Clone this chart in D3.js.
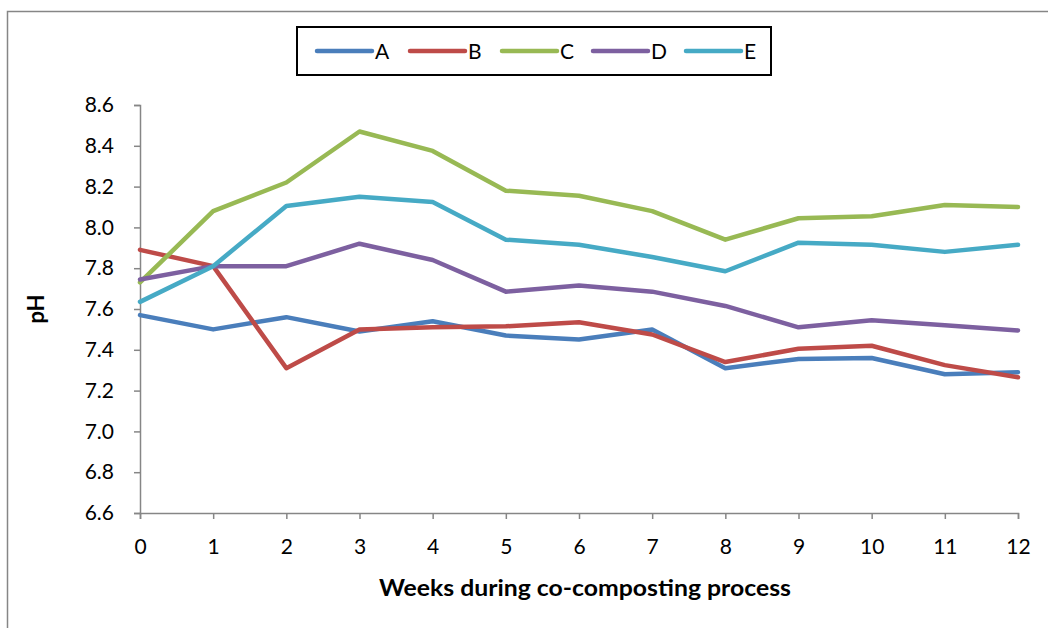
<!DOCTYPE html>
<html>
<head>
<meta charset="utf-8">
<script src="https://cdn.jsdelivr.net/npm/d3@7"></script>
<style>
  html, body { margin: 0; padding: 0; background: #fff; }
  svg { display: block; font-family: Lato, "Open Sans", sans-serif; }
</style>
</head>
<body>
<svg id="chart" width="1048" height="628"></svg>
<script>
// pH of each treatment, sampled weekly over the co-composting run
const weeks = [0, 1, 2, 3, 4, 5, 6, 7, 8, 9, 10, 11, 12];
const seriesNames = ["A", "B", "C", "D", "E"];
const seriesA = [7.57, 7.50, 7.56, 7.49, 7.54, 7.47, 7.45, 7.50, 7.31, 7.355, 7.36, 7.28, 7.29];
const seriesB = [7.89, 7.81, 7.31, 7.50, 7.51, 7.515, 7.535, 7.475, 7.34, 7.405, 7.42, 7.325, 7.265];
const seriesC = [7.73, 8.08, 8.22, 8.47, 8.375, 8.18, 8.155, 8.08, 7.94, 8.045, 8.055, 8.11, 8.10];
const seriesD = [7.745, 7.81, 7.81, 7.92, 7.84, 7.685, 7.715, 7.685, 7.615, 7.51, 7.545, 7.52, 7.495];
const seriesE = [7.635, 7.81, 8.105, 8.15, 8.125, 7.94, 7.915, 7.855, 7.785, 7.925, 7.915, 7.88, 7.915];
const yTicks = [6.6, 6.8, 7.0, 7.2, 7.4, 7.6, 7.8, 8.0, 8.2, 8.4, 8.6];
const colors = ["#4A7EBB", "#BE4B48", "#98B954", "#7D60A0", "#46AAC5"];

const series = [seriesA, seriesB, seriesC, seriesD, seriesE].map((vals, i) => ({
  name: seriesNames[i],
  color: colors[i],
  values: vals.map((v, j) => ({ week: weeks[j], ph: v }))
}));

const svg = d3.select("#chart");
const axisColor = "#868686";
const font = "Lato, 'Open Sans', sans-serif";

// outer chart frame (extends past the right and bottom edges)
svg.append("rect")
  .attr("x", 7.5).attr("y", 11.5)
  .attr("width", 1100).attr("height", 700)
  .attr("fill", "none").attr("stroke", axisColor).attr("stroke-width", 1.5);

const plot = { left: 140, right: 1018, top: 105, bottom: 513 };

const x = d3.scaleLinear().domain([0, 12]).range([plot.left, plot.right]);
const y = d3.scaleLinear().domain([6.6, 8.6]).range([plot.bottom, plot.top]);

// y axis
const yAxis = svg.append("g")
  .attr("transform", `translate(${plot.left},0)`)
  .call(d3.axisLeft(y).tickValues(yTicks).tickFormat(d3.format(".1f")).tickSize(6).tickPadding(20));
yAxis.select(".domain").attr("stroke", axisColor).attr("stroke-width", 1.5);
yAxis.selectAll(".tick line").attr("stroke", axisColor).attr("stroke-width", 1.5);
yAxis.selectAll(".tick text")
  .attr("fill", "#000").attr("font-size", 21).attr("font-family", font);

// x axis
const xAxis = svg.append("g")
  .attr("transform", `translate(0,${plot.bottom})`)
  .call(d3.axisBottom(x).tickValues(weeks).tickFormat(d3.format("d")).tickSize(6).tickPadding(20));
xAxis.select(".domain").attr("stroke", axisColor).attr("stroke-width", 1.5);
xAxis.selectAll(".tick line").attr("stroke", axisColor).attr("stroke-width", 1.5);
xAxis.selectAll(".tick text")
  .attr("fill", "#000").attr("font-size", 21).attr("font-family", font);

// axis titles
svg.append("text")
  .attr("x", 585).attr("y", 596)
  .attr("text-anchor", "middle")
  .attr("font-size", 22).attr("font-weight", "bold")
  .attr("textLength", 412).attr("lengthAdjust", "spacingAndGlyphs")
  .text("Weeks during co-composting process");

svg.append("text")
  .attr("transform", "translate(44,309) rotate(-90)")
  .attr("text-anchor", "middle")
  .attr("font-size", 22).attr("font-weight", "bold")
  .text("pH");

// series lines
const line = d3.line().x(d => x(d.week)).y(d => y(d.ph));
svg.append("g").selectAll("path")
  .data(series)
  .join("path")
  .attr("d", d => line(d.values))
  .attr("fill", "none")
  .attr("stroke", d => d.color)
  .attr("stroke-width", 4.5)
  .attr("stroke-linejoin", "round")
  .attr("stroke-linecap", "round");

// legend
const legend = svg.append("g");
legend.append("rect")
  .attr("x", 297).attr("y", 27)
  .attr("width", 474).attr("height", 48)
  .attr("fill", "#fff").attr("stroke", "#000").attr("stroke-width", 2);

const legendX = [317, 410, 502, 593, 686];
const item = legend.selectAll("g.item")
  .data(series)
  .join("g")
  .attr("class", "item")
  .attr("transform", (d, i) => `translate(${legendX[i]},51)`);
item.append("line")
  .attr("x1", 0).attr("x2", 55)
  .attr("stroke", d => d.color).attr("stroke-width", 4.5)
  .attr("stroke-linecap", "round");
item.append("text")
  .attr("x", 58).attr("y", 8)
  .attr("font-size", 21)
  .text(d => d.name);
</script>
</body>
</html>
